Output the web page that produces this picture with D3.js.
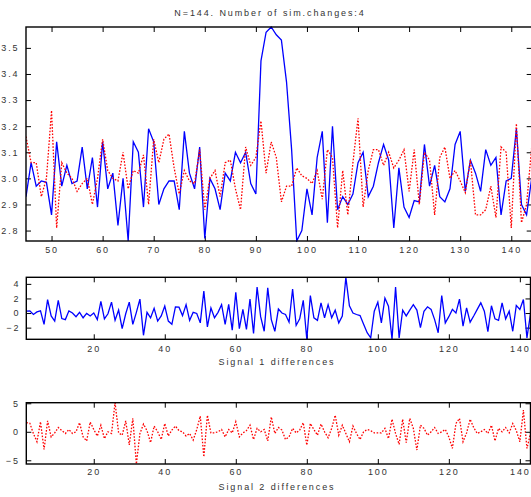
<!DOCTYPE html>
<html><head><meta charset="utf-8">
<script src="https://cdn.jsdelivr.net/npm/d3@7"></script>
<style>
body{margin:0;background:#fff;}
svg text{font-family:"Liberation Sans Narrow","Liberation Sans",Arial,sans-serif;font-size:9px;fill:#333;letter-spacing:1.9px;}
</style></head><body>
<svg id="chart" width="531" height="497"></svg>
<script>
const titleText = "N=144. Number of sim.changes:4";
const signalIndexStart = 45;
const signal1 = [2.93,3.06,2.97,2.99,2.985,2.86,3.14,2.97,3.05,2.98,
 2.99,3.12,2.96,3.08,2.89,3.14,2.96,3.02,2.82,3.00,
 2.76,3.14,3.10,2.89,3.19,3.14,2.90,2.96,2.99,2.99,
 2.88,3.18,3.02,2.96,3.12,2.77,3.00,2.96,2.88,3.02,
 2.99,3.10,3.06,3.10,2.98,2.94,3.45,3.56,3.58,3.55,
 3.53,3.37,3.11,2.76,2.80,2.96,2.86,3.08,3.18,2.83,
 3.20,2.88,2.93,2.90,2.94,3.06,3.10,2.93,2.97,3.06,
 3.13,3.07,2.81,3.04,2.89,2.85,2.915,2.91,3.13,2.97,
 3.05,2.93,2.91,2.96,3.13,3.18,2.95,3.07,3.02,2.95,
 3.11,3.05,3.08,2.86,2.99,3.00,3.19,2.90,2.86,3.00];
const signal2 = [3.16,3.06,3.06,2.93,3.00,3.26,2.81,3.06,3.02,3.00,
 2.95,2.98,3.00,2.90,3.00,3.15,3.03,3.00,2.99,3.10,
 2.96,3.03,3.02,3.09,2.90,3.15,3.06,3.15,3.17,3.04,
 2.94,3.03,2.99,2.98,3.11,2.88,3.00,3.03,2.93,3.06,
 3.07,2.96,2.88,3.12,3.05,3.08,3.22,3.02,3.14,3.08,
 2.91,2.97,2.97,3.04,3.01,3.00,2.98,3.03,2.92,3.11,
 3.08,2.81,3.03,2.86,3.06,3.23,2.89,3.03,3.11,3.11,
 3.05,3.10,3.04,3.07,3.11,2.95,3.11,2.90,3.10,3.07,
 2.86,3.08,3.12,3.00,3.03,2.99,2.945,3.07,2.86,2.86,
 2.88,2.97,2.85,3.12,3.10,2.81,3.21,2.83,2.90,3.12];
const diff1 = [0.25,0.3,-0.2,0.15,0.3,-1.55,1.85,-0.4,-1.1,1.75,
 -0.75,-0.9,0.3,0,-0.5,0.1,-0.65,-0.05,-0.4,0,
 -0.9,1.6,-0.8,-0.1,1.5,-1,0.4,-2.15,-0.1,1.5,
 -1.55,0.1,1.9,-3.05,0.1,-0.65,0.65,-1.1,-0.4,0.95,
 -1.1,-1.55,0.85,0.8,-0.35,1.15,-1,0.1,-0.05,-1.35,
 3,-1.9,0.7,-0.65,0.1,1.15,-1.55,1.2,-2.35,2.85,
 -2.15,0.5,-2.25,1.9,-2.8,3.55,-0.5,-2.5,3.45,-0.9,
 -2.5,0.55,0,-0.2,-1.25,3.3,-1.7,-0.8,1.75,-3.6,
 2.4,-0.65,-1,1.4,-0.65,1.15,-0.65,0.4,-1.35,-0.4,
 4.9,1,0,-0.2,-0.35,-1.55,-2.7,-3.4,0.25,1.5,
 -1.35,2.05,0.95,-3.6,3.55,-3.4,0.4,-0.4,0.4,1.15,
 0.4,-2,0.25,0.85,0.5,-0.9,-2.7,2.4,-1.35,-0.5,
 0.5,0,1.9,-1.8,0.7,-1.25,-0.4,0.5,1.4,0.25,
 -2.55,1,-0.8,-1,1.4,-0.8,0.25,-2.5,1.05,0.5,
 1.85,-3.4,-0.1];
const diff2 = [1.6,1.5,-0.3,-1.75,1.75,-3.1,1.9,-0.9,-0.2,0.75,
 0.2,-0.3,0.4,-0.3,0,1.6,-0.9,-1.6,1.7,0.4,
 -0.75,1.15,-1.2,0,-0.3,5.1,-0.2,-0.6,1.9,-2.3,
 2.35,-5.65,-0.3,1.35,0.2,-1.9,1.0,0,-1.35,1.45,
 -0.75,0.3,1.0,0.2,0,-0.75,-0.3,-1.45,0.4,2.75,
 -4.4,2.9,-0.2,-0.2,0,0.4,-0.9,0.4,-0.2,1.75,
 -0.9,-0.2,0.2,1.15,-1.35,0.6,0,0.4,-1.6,2.6,
 -0.3,0.75,0.3,-1.35,-0.9,0.6,-0.2,0.3,1.6,-2.35,
 1.45,0.4,-0.6,1.35,0,-1.05,0.6,2.9,-0.6,1.15,
 -0.3,-1.75,1.0,-0.3,-1.35,0,0.4,0.2,-0.2,-0.2,
 -0.2,0.6,-1.2,2.2,-0.3,-2.2,2.2,-1.9,2.35,0.6,
 -3.2,1.15,0.6,-0.6,0,0.75,-0.3,0,0.4,-0.9,
 -2.9,1.45,2.35,-1.75,-0.2,2.2,0.75,-0.3,0,0.4,
 -0.3,1.15,-1.6,0.6,0,0.75,-0.2,1.45,0.2,-1.75,
 3.8,-2.9,-0.3];
const topXTicks = [50,60,70,80,90,100,110,120,130,140];
const topYTicks = [2.8,2.9,3.0,3.1,3.2,3.3,3.4,3.5];
const diffXTicks = [20,40,60,80,100,120,140];
const diff1YTicks = [-2,0,2,4];
const diff2YTicks = [-5,0,5];
const diff1Label = "Signal 1 differences";
const diff2Label = "Signal 2 differences";

const svg = d3.select("#chart");
const BLUE = "#0000ff", RED = "#ff0000";

function panel(o){
  const g = svg.append("g");
  const x = d3.scaleLinear().domain(o.xDomain).range([o.left, o.right]);
  const y = d3.scaleLinear().domain(o.yDomain).range([o.bottom, o.top]);
  const clipId = "clip" + o.name;
  svg.append("clipPath").attr("id", clipId).append("rect")
    .attr("x", o.left).attr("y", o.top - 1).attr("width", o.right - o.left).attr("height", o.bottom - o.top + 2);
  const H = o.bottom - o.top, W = o.right - o.left;
  const tl = 5;
  const ax = (gen, tr) => {
    const a = g.append("g").attr("transform", tr).call(gen);
    a.select(".domain").remove();
    a.selectAll("line").attr("stroke", "#000").attr("stroke-width", 1);
    a.selectAll("text").attr("font-family", null).attr("font-size", null).attr("fill", null);
    return a;
  };
  ax(d3.axisBottom(x).tickValues(o.xTicks).tickSize(-tl).tickPadding(o.xPad).tickFormat(d3.format("d")), `translate(0,${o.bottom})`);
  ax(d3.axisTop(x).tickValues(o.xTicks).tickSize(-tl).tickFormat(""), `translate(0,${o.top})`);
  ax(d3.axisLeft(y).tickValues(o.yTicks).tickSize(-tl).tickPadding(o.yPad).tickFormat(o.yFmt), `translate(${o.left},0)`);
  ax(d3.axisRight(y).tickValues(o.yTicks).tickSize(-tl).tickFormat(""), `translate(${o.right},0)`);
  const lines = g.append("g").attr("clip-path", `url(#${clipId})`);
  o.series.forEach(s => {
    lines.append("path").datum(s.values)
      .attr("fill", "none").attr("stroke", s.color).attr("stroke-width", 1.3)
      .attr("stroke-dasharray", s.dash || null)
      .attr("d", d3.line().x((d, i) => x(s.start + i)).y(d => y(d)));
  });
  g.append("rect").attr("x", o.left).attr("y", o.top).attr("width", W).attr("height", H)
    .attr("fill", "none").attr("stroke", "#000").attr("stroke-width", 1.4);
  return {x, y};
}

// Top panel: both signals
panel({name:"top", left:26, right:531.7, top:27, bottom:241,
  xDomain:[signalIndexStart, signalIndexStart + signal1.length - 1],
  yDomain:d3.extent(signal1.concat(signal2)),
  xTicks:topXTicks, yTicks:topYTicks, xPad:6, yPad:6.5,
  yFmt:d3.format(".1f"),
  series:[{values:signal1, start:signalIndexStart, color:BLUE},
          {values:signal2, start:signalIndexStart, color:RED, dash:"1.6,1.6"}]});

// Middle panel: signal 1 differences
panel({name:"mid", left:26.3, right:530.5, top:277.3, bottom:339.3,
  xDomain:[1, diff1.length], yDomain:d3.extent(diff1),
  xTicks:diffXTicks, yTicks:diff1YTicks, xPad:6, yPad:6,
  yFmt:d3.format("d"),
  series:[{values:diff1, start:1, color:BLUE}]});

// Bottom panel: signal 2 differences
panel({name:"bot", left:26.3, right:530.5, top:402.7, bottom:464,
  xDomain:[1, diff2.length], yDomain:d3.extent(diff2),
  xTicks:diffXTicks, yTicks:diff2YTicks, xPad:4.5, yPad:6.5,
  yFmt:d3.format("d"),
  series:[{values:diff2, start:1, color:RED, dash:"1.6,1.6"}]});

svg.append("text").attr("x", 270).attr("y", 16).attr("text-anchor", "middle").text(titleText);
svg.append("text").attr("x", 277).attr("y", 365).attr("text-anchor", "middle").text(diff1Label);
svg.append("text").attr("x", 277).attr("y", 490).attr("text-anchor", "middle").text(diff2Label);
</script>
</body></html>
